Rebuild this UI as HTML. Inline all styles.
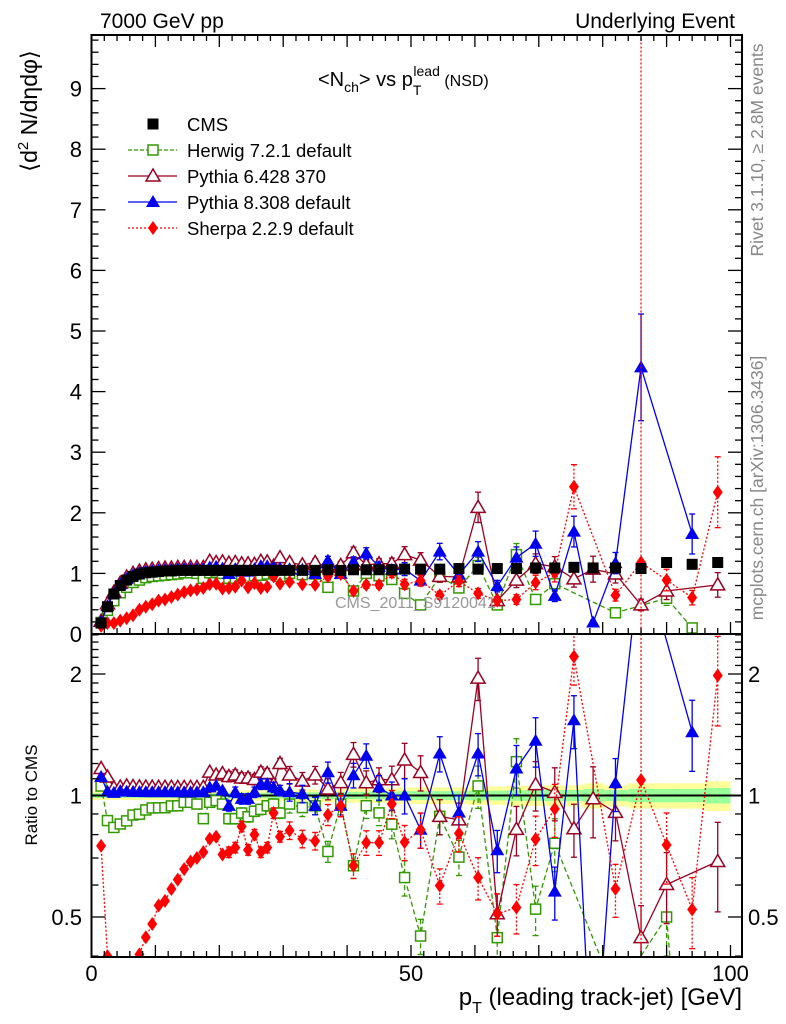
<!DOCTYPE html>
<html><head><meta charset="utf-8"><style>
html,body{margin:0;padding:0;background:#fff;overflow:hidden;}
svg{display:block;}
svg text{font-family:"Liberation Sans",sans-serif;}
</style></head><body>
<svg id="chart" width="786" height="1024" viewBox="0 0 786 1024" xmlns="http://www.w3.org/2000/svg">
<rect width="786" height="1024" fill="#fff"/>
<g id="bands"></g>
<g id="marks"></g>
<g id="axes"></g>
<text x="100" y="28" font-size="21">7000 GeV pp</text>
<text x="735" y="28" font-size="21" text-anchor="end">Underlying Event</text>
<text x="318" y="86" font-size="20">&lt;N<tspan font-size="14" dy="6">ch</tspan><tspan dy="-6">&gt; vs p</tspan><tspan font-size="14" dy="9">T</tspan><tspan font-size="14" dx="-8" dy="-19">lead</tspan><tspan font-size="16" dy="10"> (NSD)</tspan></text>
<text transform="translate(37,111) rotate(-90)" font-size="23" text-anchor="middle">⟨d<tspan font-size="15" dy="-9">2</tspan><tspan dy="9"> N/dηdφ⟩</tspan></text>
<text transform="translate(37,795) rotate(-90)" font-size="17" text-anchor="middle">Ratio to CMS</text>
<text x="742" y="1005" font-size="24" text-anchor="end">p<tspan font-size="16" dy="8">T</tspan><tspan dy="-8"> (leading track-jet) [GeV]</tspan></text>
<text transform="translate(763,150) rotate(-90)" font-size="17.5" fill="#888" text-anchor="middle">Rivet 3.1.10, ≥ 2.8M events</text>
<text transform="translate(763,488) rotate(-90)" font-size="17.5" fill="#888" text-anchor="middle">mcplots.cern.ch [arXiv:1306.3436]</text>
<text x="335" y="608" font-size="16" fill="#999">CMS_2011_S9120041</text>
<g id="legend"></g>
</svg>
<script>
const xs=[1.5,2.5,3.5,4.5,5.5,6.5,7.5,8.5,9.5,10.5,11.5,12.5,13.5,14.5,15.5,16.5,17.5,18.5,19.5,20.5,21.5,22.5,23.5,24.5,25.5,26.5,27.5,28.5,29.5,31,33,35,37,39,41,43,45,47,49,51.5,54.5,57.5,60.5,63.5,66.5,69.5,72.5,75.5,78.5,82,86,90,94,98];
const cms=[0.18,0.45,0.66,0.80,0.89,0.95,0.99,1.01,1.02,1.03,1.04,1.04,1.05,1.05,1.05,1.05,1.05,1.05,1.05,1.05,1.05,1.05,1.05,1.05,1.05,1.05,1.05,1.05,1.05,1.05,1.05,1.05,1.06,1.05,1.06,1.06,1.06,1.06,1.07,1.07,1.07,1.08,1.07,1.08,1.08,1.09,1.09,1.10,1.09,1.09,1.08,1.18,1.15,1.18];
const herwig=[0.19,0.39,0.55,0.68,0.77,0.85,0.89,0.93,0.95,0.96,0.97,0.98,0.99,1.01,1.01,1.00,0.92,1.01,1.02,1.00,0.92,0.92,0.95,0.93,0.96,0.97,0.99,1.00,0.95,1.00,0.98,0.99,0.77,1.00,0.71,1.00,0.96,0.90,0.67,0.48,0.95,0.76,1.13,0.48,1.31,0.57,0.83,null,null,0.35,null,0.59,0.10,null];
const pythia6=[0.21,0.50,0.69,0.84,0.94,1.00,1.04,1.06,1.07,1.08,1.09,1.09,1.10,1.10,1.10,1.10,1.10,1.20,1.18,1.19,1.17,1.18,1.16,1.16,1.15,1.20,1.19,1.12,1.26,1.18,1.14,1.18,1.10,1.13,1.34,1.14,1.16,1.16,1.31,1.22,0.95,0.94,2.09,0.55,0.89,1.16,1.11,0.91,1.07,0.99,0.48,0.71,null,0.81];
const pythia8=[0.20,0.46,0.67,0.82,0.91,0.97,1.01,1.03,1.04,1.05,1.06,1.06,1.07,1.07,1.07,1.07,1.07,1.10,1.11,1.08,0.99,1.07,1.03,1.03,1.07,1.12,1.12,1.10,1.08,1.07,1.06,0.99,1.21,0.99,1.19,1.33,1.11,1.06,1.07,0.88,1.36,0.98,1.36,0.79,1.26,1.49,0.63,1.69,0.19,1.17,4.40,null,1.65,null];
const sherpa=[0.135,0.18,0.18,0.22,0.26,0.31,0.40,0.45,0.49,0.55,0.57,0.61,0.65,0.69,0.72,0.735,0.76,0.82,0.83,0.75,0.76,0.78,0.88,0.77,0.84,0.76,0.78,0.95,0.83,0.86,0.82,0.81,0.95,0.99,0.71,0.81,0.81,1.01,0.82,0.88,0.64,0.87,0.67,0.55,0.57,0.85,1.01,2.43,null,0.64,1.18,0.89,0.60,2.34];
const relErr=[0.01,0.01,0.01,0.01,0.01,0.01,0.01,0.01,0.01,0.01,0.01,0.01,0.01,0.01,0.01,0.01,0.01,0.01,0.01,0.01,0.03,0.03,0.03,0.03,0.03,0.03,0.03,0.03,0.03,0.05,0.05,0.05,0.06,0.06,0.07,0.07,0.07,0.08,0.1,0.1,0.1,0.1,0.12,0.12,0.14,0.14,0.15,0.15,0.2,0.15,0.2,0.2,0.2,0.25];
const sherpaBigErrIdx=[50];
const yTicks=[0,1,2,3,4,5,6,7,8,9];
const xTickLabels=[0,50,100];
const rTickLabels=[0.5,1,2];

const NS="http://www.w3.org/2000/svg";
const L=91.5,R=742,T=35,MB=634,RB=957;
const X=v=>L+6.39*v;
const Y=v=>MB-60.6*v;
const RY=r=>795.5-121.5*Math.log2(r);
function mk(tag,attrs,parent){const e=document.createElementNS(NS,tag);for(const k in attrs)e.setAttribute(k,attrs[k]);parent.appendChild(e);return e;}
const marks=document.getElementById('marks'),axes=document.getElementById('axes'),bands=document.getElementById('bands');

const defs=mk('defs',{},document.getElementById('chart'));
const c1=mk('clipPath',{id:'cm'},defs);mk('rect',{x:L,y:T,width:R-L,height:MB-T},c1);
const c2=mk('clipPath',{id:'cr'},defs);mk('rect',{x:L,y:MB,width:R-L,height:RB-MB},c2);

for(let i=0;i<xs.length;i++){
  const lo=i==0?0:(xs[i-1]+xs[i])/2, hi=i==xs.length-1?100:(xs[i]+xs[i+1])/2;
  const e=0.012+relErr[i]*0.13;
  const y1=mk('rect',{x:X(lo),y:RY(1+e*1.9),width:X(hi)-X(lo),height:RY(1-e*1.9)-RY(1+e*1.9),fill:'#ffff99'},bands);
  
  
  const g1=mk('rect',{x:X(lo),y:RY(1+e),width:X(hi)-X(lo),height:RY(1-e)-RY(1+e),fill:'#99ff99'},bands);
  
  
}
mk('line',{x1:L,x2:R,y1:RY(1),y2:RY(1),stroke:'#000','stroke-width':2},bands);

function marker(type,cx,cy,color,g){
  let e;
  if(type=='sq') e=mk('rect',{x:cx-5,y:cy-5,width:10,height:10,fill:'#fff',stroke:color,'stroke-width':1.5},g);
  else if(type=='fsq') e=mk('rect',{x:cx-5.5,y:cy-5.5,width:11,height:11,fill:color},g);
  else if(type=='otri') e=mk('polygon',{points:`${cx},${cy-7} ${cx-7},${cy+5} ${cx+7},${cy+5}`,fill:'#fff',stroke:color,'stroke-width':1.5},g);
  else if(type=='tri') e=mk('polygon',{points:`${cx},${cy-7} ${cx-7},${cy+5} ${cx+7},${cy+5}`,fill:color},g);
  else e=mk('polygon',{points:`${cx},${cy-7} ${cx-5},${cy} ${cx},${cy+7} ${cx+5},${cy}`,fill:color},g);
  return e;
}
const series=[
 {name:'herwig',vals:herwig,color:'#339900',dash:'5,3',m:'sq'},
 {name:'pythia6',vals:pythia6,color:'#990022',dash:'',m:'otri'},
 {name:'pythia8',vals:pythia8,color:'#0000ee',dash:'',m:'tri'},
 {name:'sherpa',vals:sherpa,color:'#ff0000',dash:'2,2',m:'dia'}];
for(const s of series){
  for(const panel of ['main','ratio']){
    const g=mk('g',{'clip-path':panel=='main'?'url(#cm)':'url(#cr)'},marks);
    
    
    const yf=i=>panel=='main'?Y(s.vals[i]):RY(s.vals[i]/cms[i]);
    let pts=[];
    for(let i=0;i<xs.length;i++){ if(s.vals[i]==null)continue; pts.push(X(xs[i]).toFixed(1)+','+yf(i).toFixed(1)); }
    const pl=mk('polyline',{points:pts.join(' '),fill:'none',stroke:s.color,'stroke-width':1.3,'stroke-dasharray':s.dash},g);
    
    
    for(let i=0;i<xs.length;i++){
      if(s.vals[i]==null)continue;
      let e=s.vals[i]*relErr[i];
      if(s.name=='sherpa'&&sherpaBigErrIdx.includes(i)) e=20;
      const cx=X(xs[i]);
      const lo=Math.max(s.vals[i]-e,0.001),hi=s.vals[i]+e;
      const ya=panel=='main'?Y(hi):RY(hi/cms[i]), yb=panel=='main'?Y(lo):RY(lo/cms[i]);
      mk('line',{x1:cx,x2:cx,y1:ya,y2:yb,stroke:s.color,'stroke-width':1.3,'stroke-dasharray':s.dash},g);
      mk('line',{x1:cx-3,x2:cx+3,y1:ya,y2:ya,stroke:s.color,'stroke-width':1.3},g);
      mk('line',{x1:cx-3,x2:cx+3,y1:yb,y2:yb,stroke:s.color,'stroke-width':1.3},g);
      const m=marker(s.m,cx,yf(i),s.color,g);
      
      
    }
  }
}
{ const g=mk('g',{'clip-path':'url(#cm)'},marks);
  
  
  for(let i=0;i<xs.length;i++){const m=marker('fsq',X(xs[i]),Y(cms[i]),'#000',g);
    
    }
}
mk('rect',{x:L,y:T,width:R-L,height:MB-T,fill:'none',stroke:'#000','stroke-width':2},axes);
mk('rect',{x:L,y:MB,width:R-L,height:RB-MB,fill:'none',stroke:'#000','stroke-width':2},axes);
for(let v=0;v<=101;v+=2){
  const len=v%10==0?12:6;
  for(const [yb,dir] of [[MB,-1],[RB,-1],[T,1]]){
    mk('line',{x1:X(v),x2:X(v),y1:yb,y2:yb+dir*len,stroke:'#000','stroke-width':1.3},axes);
  }
}
for(const v of xTickLabels){const t=mk('text',{x:X(v),y:981,'font-size':22,'text-anchor':'middle'},axes);t.textContent=v;
  
  }
for(let k=0;k<=49;k++){const v=k*0.2,y=Y(v);if(y<T)break;const len=k%5==0?14:7;
  mk('line',{x1:L,x2:L+len,y1:y,y2:y,stroke:'#000','stroke-width':1.3},axes);
  mk('line',{x1:R,x2:R-len,y1:y,y2:y,stroke:'#000','stroke-width':1.3},axes);}
for(const v of yTicks){ if(v==0)continue; const t=mk('text',{x:82,y:Y(v)+8,'font-size':22,'text-anchor':'end'},axes);t.textContent=v;
  
  }
{const t=mk('text',{x:82,y:642,'font-size':22,'text-anchor':'end'},axes);t.textContent='0';}
const rt=[0.4,0.5,0.6,0.7,0.8,0.9,1,1.1,1.2,1.3,1.4,1.5,1.6,1.7,1.8,1.9,2,2.1,2.2,2.3,2.4,2.5];
for(const r of rt){const y=RY(r);if(y<MB||y>RB)continue;const len=(r==0.5||r==1||r==2)?14:7;
  mk('line',{x1:L,x2:L+len,y1:y,y2:y,stroke:'#000','stroke-width':1.3},axes);
  mk('line',{x1:R,x2:R-len,y1:y,y2:y,stroke:'#000','stroke-width':1.3},axes);}
for(const r of rTickLabels){
  const t=mk('text',{x:82,y:RY(r)+8,'font-size':22,'text-anchor':'end'},axes);t.textContent=r;
  
  
  const t2=mk('text',{x:748,y:RY(r)+8,'font-size':22},axes);t2.textContent=r;
  
  }
const leg=document.getElementById('legend');
const legItems=[['CMS','#000','','fsq'],['Herwig 7.2.1 default','#339900','4,2','sq'],['Pythia 6.428 370','#990022','','otri'],['Pythia 8.308 default','#0000ee','','tri'],['Sherpa 2.2.9 default','#ff0000','2,2','dia']];
legItems.forEach((it,i)=>{const y=124+i*26;
  const g=mk('g',{},leg);
  
  
  if(i>0) mk('line',{x1:128,x2:177,y1:y,y2:y,stroke:it[1],'stroke-width':1.3,'stroke-dasharray':it[2]},g);
  marker(it[3],153,y,it[1],g);
  const t=mk('text',{x:187,y:y+7,'font-size':18.5},g);t.textContent=it[0];});
</script>
</body></html>
